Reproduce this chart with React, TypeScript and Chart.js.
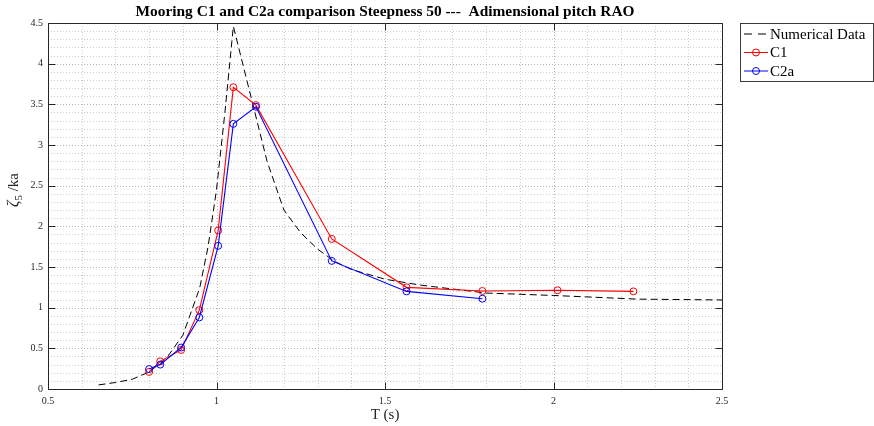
import React, { useEffect, useRef } from "react";
import { Chart, registerables } from "chart.js";

Chart.register(...registerables);

const TITLE = "Mooring C1 and C2a comparison Steepness 50 ---  Adimensional pitch RAO";
const X_TITLE = "T (s)";
const LEGEND_LABELS = ["Numerical Data", "C1", "C2a"];

const X_TICKS = [0.5, 1, 1.5, 2, 2.5];
const Y_TICKS = [0, 0.5, 1, 1.5, 2, 2.5, 3, 3.5, 4, 4.5];

const NUM_T = [0.65, 0.7, 0.75, 0.8, 0.85, 0.9, 0.95, 0.975, 1.0, 1.025, 1.05, 1.15, 1.2, 1.25, 1.3, 1.35, 1.4, 1.5, 1.6, 1.8, 2.0, 2.25, 2.5];
const NUM_Y = [0.05, 0.08, 0.12, 0.21, 0.37, 0.66, 1.24, 1.75, 2.45, 3.4, 4.46, 2.8, 2.2, 1.92, 1.72, 1.57, 1.47, 1.35, 1.28, 1.18, 1.15, 1.105, 1.095];

const C1_T = [0.8, 0.833, 0.895, 0.949, 1.005, 1.05, 1.117, 1.342, 1.564, 1.789, 2.012, 2.237];
const C1_Y = [0.21, 0.34, 0.48, 0.97, 1.95, 3.71, 3.49, 1.845, 1.25, 1.205, 1.214, 1.2];

const C2A_T = [0.8, 0.833, 0.895, 0.949, 1.005, 1.05, 1.117, 1.342, 1.564, 1.789];
const C2A_Y = [0.245, 0.3, 0.51, 0.88, 1.76, 3.26, 3.47, 1.575, 1.2, 1.11];

const SERIF = "'Liberation Serif', 'Times New Roman', serif";
const AXIS_COLOR = "#262626";

const toPoints = (xs: number[], ys: number[]) => xs.map((x, i) => ({ x, y: ys[i] }));

const decorPlugin = {
  id: "matlabDecor",
  beforeDatasetsDraw(chart: any) {
    const { ctx, chartArea: a, scales } = chart;
    const xs = scales.x;
    const ys = scales.y;
    ctx.save();
    ctx.beginPath();
    ctx.rect(a.left, a.top, a.right - a.left, a.bottom - a.top);
    ctx.clip();
    ctx.lineWidth = 1;
    ctx.setLineDash([1, 2]);
    for (let i = 0; i <= 20; i++) {
      const v = 0.5 + i * 0.1;
      const major = i % 5 === 0;
      ctx.strokeStyle = major ? "#b4b4b4" : "#cdcdcd";
      const px = Math.round(xs.getPixelForValue(v)) + 0.5;
      ctx.beginPath();
      ctx.moveTo(px, a.top);
      ctx.lineTo(px, a.bottom);
      ctx.stroke();
    }
    for (let i = 0; i <= 45; i++) {
      const v = i * 0.1;
      const major = i % 5 === 0;
      ctx.strokeStyle = major ? "#b4b4b4" : "#cdcdcd";
      const py = Math.round(ys.getPixelForValue(v)) + 0.5;
      ctx.beginPath();
      ctx.moveTo(a.left, py);
      ctx.lineTo(a.right, py);
      ctx.stroke();
    }
    ctx.restore();
  },
  afterDraw(chart: any) {
    const { ctx, chartArea: a, scales } = chart;
    const xs = scales.x;
    const ys = scales.y;
    ctx.save();
    ctx.setLineDash([]);
    ctx.strokeStyle = AXIS_COLOR;
    ctx.lineWidth = 1;
    const L = Math.round(a.left) + 0.5;
    const R = Math.round(a.right) + 0.5;
    const T = Math.round(a.top) + 0.5;
    const B = Math.round(a.bottom) + 0.5;
    ctx.beginPath();
    ctx.rect(L, T, R - L, B - T);
    ctx.stroke();
    const tl = 7;
    ctx.beginPath();
    for (const v of X_TICKS) {
      const px = Math.round(xs.getPixelForValue(v)) + 0.5;
      ctx.moveTo(px, B);
      ctx.lineTo(px, B - tl);
      ctx.moveTo(px, T);
      ctx.lineTo(px, T + tl);
    }
    for (const v of Y_TICKS) {
      const py = Math.round(ys.getPixelForValue(v)) + 0.5;
      ctx.moveTo(L, py);
      ctx.lineTo(L + tl, py);
      ctx.moveTo(R, py);
      ctx.lineTo(R - tl, py);
    }
    ctx.stroke();

    const cx = (a.left + a.right) / 2;
    ctx.fillStyle = "#000";
    ctx.font = `bold 15.4px ${SERIF}`;
    ctx.textAlign = "center";
    ctx.textBaseline = "middle";
    ctx.fillText(TITLE, cx, 12);

    ctx.fillStyle = AXIS_COLOR;
    ctx.font = `15px ${SERIF}`;
    ctx.fillText(X_TITLE, cx, 415);

    ctx.save();
    ctx.translate(13, 190);
    ctx.rotate(-Math.PI / 2);
    const zFont = `italic 16px ${SERIF}`;
    const sFont = `11px ${SERIF}`;
    const kFont = `15px ${SERIF}`;
    ctx.font = zFont;
    const wz = ctx.measureText("ζ").width;
    ctx.font = sFont;
    const ws = ctx.measureText("5").width;
    ctx.font = kFont;
    const wk = ctx.measureText(" /ka").width;
    const total = wz + ws + wk;
    let xx = -total / 2;
    ctx.textAlign = "left";
    ctx.textBaseline = "alphabetic";
    ctx.font = zFont;
    ctx.fillText("ζ", xx, 5);
    xx += wz;
    ctx.font = sFont;
    ctx.fillText("5", xx, 9);
    xx += ws;
    ctx.font = kFont;
    ctx.fillText(" /ka", xx, 5);
    ctx.restore();

    const lx = 740.5;
    const ly = 23.5;
    const lw = 133;
    const lh = 58;
    ctx.fillStyle = "#fff";
    ctx.fillRect(lx, ly, lw, lh);
    ctx.strokeStyle = "#3c3c3c";
    ctx.lineWidth = 1;
    ctx.strokeRect(lx, ly, lw, lh);
    const rows = [34, 52.5, 71];
    const ds = chart.data.datasets;
    for (let i = 0; i < 3; i++) {
      const d = ds[i];
      const yy = rows[i];
      ctx.strokeStyle = d.borderColor;
      ctx.lineWidth = 1;
      ctx.setLineDash(d.borderDash ? [8, 6] : []);
      ctx.beginPath();
      ctx.moveTo(744, yy);
      ctx.lineTo(768, yy);
      ctx.stroke();
      ctx.setLineDash([]);
      if (d.pointRadius > 0) {
        ctx.beginPath();
        ctx.arc(756, yy, d.pointRadius, 0, Math.PI * 2);
        ctx.strokeStyle = d.pointBorderColor;
        ctx.stroke();
      }
      ctx.fillStyle = "#000";
      ctx.font = `15px ${SERIF}`;
      ctx.textAlign = "left";
      ctx.textBaseline = "middle";
      ctx.fillText(LEGEND_LABELS[i], 770, yy + 1);
    }
    ctx.restore();
  },
};

export default function App() {
  const ref = useRef<HTMLCanvasElement | null>(null);

  useEffect(() => {
    const canvas = ref.current;
    if (!canvas) return;
    const tickFont = { family: SERIF, size: 10 };
    const chart = new Chart(canvas, {
      type: "scatter",
      data: {
        datasets: [
          {
            label: LEGEND_LABELS[0],
            data: toPoints(NUM_T, NUM_Y),
            showLine: true,
            borderColor: "#000000",
            borderWidth: 1,
            borderDash: [7, 4],
            pointRadius: 0,
            pointBorderColor: "#000000",
            backgroundColor: "transparent",
            tension: 0,
            order: 2,
          } as any,
          {
            label: LEGEND_LABELS[1],
            data: toPoints(C1_T, C1_Y),
            showLine: true,
            borderColor: "#ff0000",
            borderWidth: 1.1,
            pointRadius: 3.5,
            pointBorderColor: "#ff0000",
            pointBorderWidth: 1,
            pointBackgroundColor: "transparent",
            backgroundColor: "transparent",
            tension: 0,
            order: 1,
          } as any,
          {
            label: LEGEND_LABELS[2],
            data: toPoints(C2A_T, C2A_Y),
            showLine: true,
            borderColor: "#0000ff",
            borderWidth: 1.1,
            pointRadius: 3.5,
            pointBorderColor: "#0000ff",
            pointBorderWidth: 1,
            pointBackgroundColor: "transparent",
            backgroundColor: "transparent",
            tension: 0,
            order: 0,
          } as any,
        ],
      },
      options: {
        animation: false,
        responsive: true,
        maintainAspectRatio: false,
        layout: { padding: { left: 0, right: 152, top: 23, bottom: 0 } },
        plugins: {
          legend: { display: false },
          title: { display: false },
          tooltip: { enabled: false },
        },
        scales: {
          x: {
            type: "linear",
            min: 0.5,
            max: 2.5,
            afterBuildTicks: (s: any) => {
              s.ticks = X_TICKS.map((v) => ({ value: v }));
            },
            afterFit: (s: any) => {
              s.height = 37;
            },
            ticks: {
              color: AXIS_COLOR,
              font: tickFont,
              padding: 6,
              maxRotation: 0,
              autoSkip: false,
              callback: (v: any) => String(v),
            },
            grid: { display: false, drawTicks: false },
            border: { display: false },
          },
          y: {
            type: "linear",
            min: 0,
            max: 4.5,
            afterBuildTicks: (s: any) => {
              s.ticks = Y_TICKS.map((v) => ({ value: v }));
            },
            afterFit: (s: any) => {
              s.width = 48;
            },
            ticks: {
              color: AXIS_COLOR,
              font: tickFont,
              padding: 5,
              autoSkip: false,
              callback: (v: any) => String(v),
            },
            grid: { display: false, drawTicks: false },
            border: { display: false },
          },
        },
      } as any,
      plugins: [decorPlugin],
    });
    return () => chart.destroy();
  }, []);

  return (
    <div style={{ position: "fixed", left: 0, top: 0, width: 874, height: 426, background: "#fff" }}>
      <canvas ref={ref} />
    </div>
  );
}
